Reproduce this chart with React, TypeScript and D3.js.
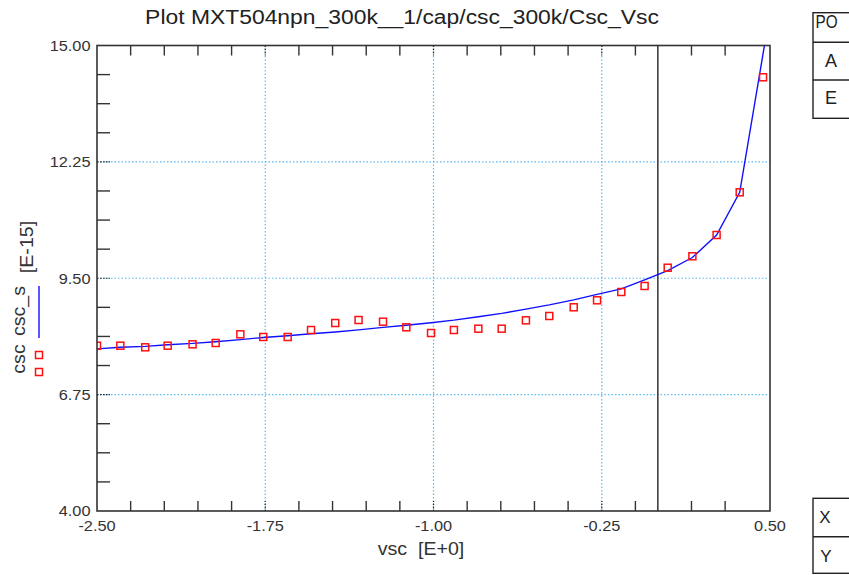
import React from "react";
import * as d3 from "d3";

// ---- data ----
const measVsc = [-2.5, -2.396, -2.285, -2.185, -2.074, -1.971, -1.861, -1.759, -1.65, -1.546, -1.438, -1.334, -1.225, -1.121, -1.011, -0.909, -0.8, -0.696, -0.588, -0.484, -0.375, -0.271, -0.163, -0.059, 0.044, 0.154, 0.262, 0.365, 0.469];
const measCsc = [7.906, 7.906, 7.868, 7.906, 7.939, 7.97, 8.175, 8.112, 8.112, 8.277, 8.442, 8.513, 8.473, 8.341, 8.206, 8.277, 8.308, 8.308, 8.506, 8.608, 8.814, 8.979, 9.175, 9.317, 9.749, 10.019, 10.522, 11.531, 14.249];
const simVsc = [-2.5, -2.396, -2.285, -2.185, -2.074, -1.971, -1.861, -1.759, -1.65, -1.546, -1.438, -1.334, -1.225, -1.121, -1.011, -0.909, -0.8, -0.696, -0.588, -0.484, -0.375, -0.271, -0.163, -0.059, 0.044, 0.154, 0.262, 0.365, 0.469, 0.5];
const simCsc = [7.83, 7.87, 7.89, 7.93, 7.96, 8.0, 8.05, 8.1, 8.14, 8.19, 8.23, 8.28, 8.34, 8.39, 8.45, 8.51, 8.59, 8.67, 8.77, 8.87, 8.99, 9.12, 9.25, 9.46, 9.68, 9.99, 10.52, 11.53, 14.8, 15.8];

const xMajorTicks = [-2.5, -1.75, -1.0, -0.25, 0.5];
const xMajorLabels = ["-2.50", "-1.75", "-1.00", "-0.25", "0.50"];
const xMinorTicks = [-2.35, -2.2, -2.05, -1.9, -1.6, -1.45, -1.3, -1.15, -0.85, -0.7, -0.55, -0.4, -0.1, 0.15, 0.3];
const yMajorTicks = [4.0, 6.75, 9.5, 12.25, 15.0];
const yMajorLabels = ["4.00", "6.75", "9.50", "12.25", "15.00"];
const yMinorTicks = [4.6875, 5.375, 6.0625, 7.4375, 8.125, 8.8125, 10.1875, 10.875, 11.5625, 12.9375, 13.625, 14.3125];
const markerLine = [0.0];

const title = "Plot MXT504npn_300k__1/cap/csc_300k/Csc_Vsc";
const xTitle = "vsc  [E+0]";
const seriesNames = ["csc", "csc_s"];
const yUnit = "[E-15]";
const topBoxLabels = ["PO", "A", "E"];
const bottomBoxLabels = ["X", "Y"];

const FONT = "'Liberation Sans', Arial, sans-serif";
const SX = 1.09;

function T(props: any) {
  const { x, y, rot, size, anchor, children, fill, sx } = props;
  const s = sx === undefined ? SX : sx;
  const tr = `translate(${x},${y})${rot ? ` rotate(${rot})` : ""} scale(${s},1)`;
  return (
    <text
      transform={tr}
      fontFamily={FONT}
      fontSize={size}
      textAnchor={anchor || "start"}
      fill={fill || "#333"}
      style={{ whiteSpace: "pre" }}
    >
      {children}
    </text>
  );
}

export default function App() {
  const L = 97, R = 770, Tp = 45.5, B = 511;
  const x = d3.scaleLinear().domain([-2.5, 0.5]).range([L, R]);
  const y = d3.scaleLinear().domain([4, 15]).range([B, Tp]);
  const line = d3.line<number>().x((_, i) => x(simVsc[i])).y((d) => y(d));
  const axisCol = "#333";
  const gridCol = "#5cb8f2";
  const sq = 7;

  return (
    <svg width={849} height={575} style={{ position: "absolute", left: 0, top: 0, background: "#fff" }}>
      <rect x={0} y={0} width={849} height={575} fill="#fff" />
      <defs>
        <clipPath id="plotclip">
          <rect x={L} y={Tp} width={R - L} height={B - Tp} />
        </clipPath>
      </defs>

      {/* title */}
      <T x={402} y={23.5} size={21} anchor="middle" fill="#222">{title}</T>

      {/* grid */}
      {xMajorTicks.slice(1, -1).map((v) => (
        <line key={"gx" + v} x1={x(v)} x2={x(v)} y1={Tp} y2={B} stroke={gridCol} strokeWidth={1.2} strokeDasharray="1.5,2" />
      ))}
      {yMajorTicks.slice(1, -1).map((v) => (
        <line key={"gy" + v} x1={L} x2={R} y1={y(v)} y2={y(v)} stroke={gridCol} strokeWidth={1.2} strokeDasharray="1.5,2" />
      ))}

      {/* major ticks (dotted dark) */}
      {xMajorTicks.slice(1, -1).map((v) => (
        <g key={"mt" + v}>
          <line x1={x(v)} x2={x(v)} y1={B} y2={B - 10} stroke="#222" strokeWidth={1.2} strokeDasharray="1.5,1.5" />
          <line x1={x(v)} x2={x(v)} y1={Tp} y2={Tp + 10} stroke="#222" strokeWidth={1.2} strokeDasharray="1.5,1.5" />
        </g>
      ))}
      {yMajorTicks.slice(1, -1).map((v) => (
        <line key={"myt" + v} x1={L} x2={L + 13} y1={y(v)} y2={y(v)} stroke="#222" strokeWidth={1.2} strokeDasharray="1.5,1.5" />
      ))}

      {/* minor ticks */}
      {xMinorTicks.map((v) => (
        <g key={"xt" + v}>
          <line x1={x(v)} x2={x(v)} y1={B} y2={B - 10} stroke={axisCol} strokeWidth={1.4} />
          <line x1={x(v)} x2={x(v)} y1={Tp} y2={Tp + 10} stroke={axisCol} strokeWidth={1.4} />
        </g>
      ))}
      {yMinorTicks.map((v) => (
        <line key={"yt" + v} x1={L} x2={L + 13} y1={y(v)} y2={y(v)} stroke={axisCol} strokeWidth={1.4} />
      ))}

      {/* marker line at 0 */}
      {markerLine.map((v) => (
        <line key={"ml" + v} x1={x(v)} x2={x(v)} y1={Tp} y2={B} stroke={axisCol} strokeWidth={1.5} />
      ))}

      {/* data */}
      <g clipPath="url(#plotclip)">
        <path d={line(simCsc) || ""} fill="none" stroke="#1010ff" strokeWidth={1.4} />
        {measVsc.map((v, i) => (
          <rect key={"p" + i} x={x(v) - sq / 2} y={y(measCsc[i]) - sq / 2} width={sq} height={sq} fill="none" stroke="#ff1010" strokeWidth={1.5} />
        ))}
      </g>

      {/* frame */}
      <rect x={L} y={Tp} width={R - L} height={B - Tp} fill="none" stroke={axisCol} strokeWidth={1.6} />

      {/* tick labels */}
      {xMajorTicks.map((v, i) => (
        <T key={"xl" + v} x={x(v)} y={530.5} size={15} anchor="middle">{xMajorLabels[i]}</T>
      ))}
      {yMajorTicks.map((v, i) => (
        <T key={"yl" + v} x={90.5} y={y(v) + 5.4} size={15} anchor="end">{yMajorLabels[i]}</T>
      ))}

      {/* axis titles */}
      <T x={421} y={555} size={18} anchor="middle">{xTitle}</T>
      <T x={25} y={359} rot={-90} size={18} anchor="middle">{seriesNames[0]}</T>
      <T x={25} y={311} rot={-90} size={18} anchor="middle">{seriesNames[1]}</T>
      <T x={33} y={247} rot={-90} size={18} anchor="middle">{yUnit}</T>
      {/* legend symbols */}
      <rect x={39 - sq / 2} y={355 - sq / 2} width={sq} height={sq} fill="none" stroke="#ff1010" strokeWidth={1.5} />
      <rect x={39 - sq / 2} y={372 - sq / 2} width={sq} height={sq} fill="none" stroke="#ff1010" strokeWidth={1.5} />
      <line x1={39} x2={39} y1={286} y2={338} stroke="#1010ff" strokeWidth={1.4} />

      {/* right boxes */}
      <rect x={813} y={12.7} width={60} height={105.6} fill="#fff" stroke="#222" strokeWidth={1.4} />
      <line x1={813} x2={849} y1={42.3} y2={42.3} stroke="#222" strokeWidth={1.4} />
      <line x1={813} x2={849} y1={80} y2={80} stroke="#222" strokeWidth={1.4} />
      <T x={815.5} y={28} size={18} sx={0.85} fill="#222">{topBoxLabels[0]}</T>
      <T x={831} y={66.5} size={18} anchor="middle" sx={1} fill="#222">{topBoxLabels[1]}</T>
      <T x={831} y={104} size={18} anchor="middle" sx={1} fill="#222">{topBoxLabels[2]}</T>

      <rect x={813} y={498.3} width={60} height={75} fill="#fff" stroke="#222" strokeWidth={1.4} />
      <line x1={813} x2={849} y1={536.7} y2={536.7} stroke="#222" strokeWidth={1.4} />
      <T x={825} y={523} size={17} anchor="middle" sx={1} fill="#222">{bottomBoxLabels[0]}</T>
      <T x={826} y={561.5} size={17} anchor="middle" sx={1} fill="#222">{bottomBoxLabels[1]}</T>
    </svg>
  );
}
